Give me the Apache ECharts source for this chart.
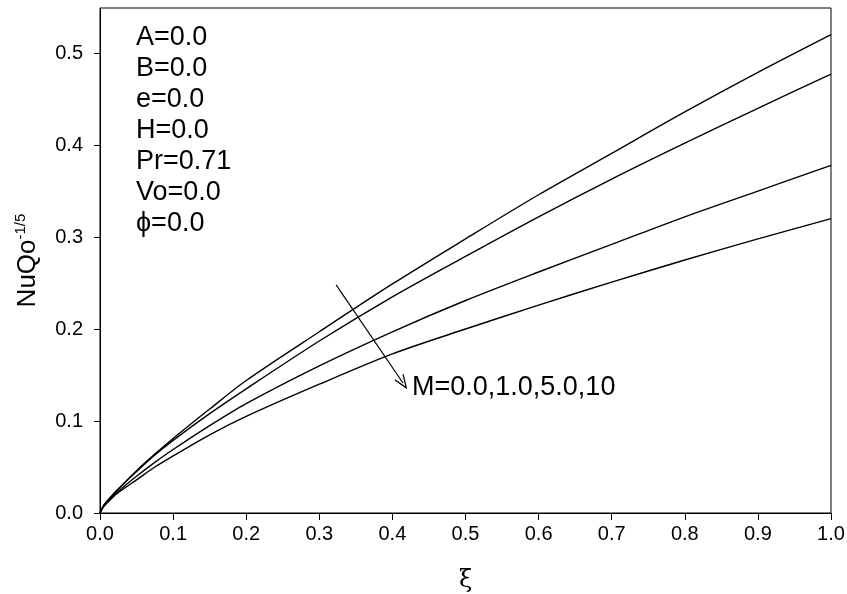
<!DOCTYPE html>
<html>
<head>
    <meta charset="UTF-8">
    <title>NuQo</title>
    <script src="https://cdn.jsdelivr.net/npm/echarts@6/dist/echarts.min.js"></script>
    <style>
        *{margin:0;padding:0}
        html,body{width:100%;height:100%;background:#fff}
        #main{width:847px;height:594px}
    </style>
</head>
<body>
    <div id="main"></div>
    <script type="text/javascript">
        // xi values shared by all curves
        var xiList = [0, 0.005, 0.01, 0.02, 0.03, 0.05, 0.075, 0.1, 0.15, 0.2, 0.3, 0.4, 0.5, 0.6, 0.7, 0.8, 0.9, 1.0];
        // NuQo^-1/5 for M = 0.0, 1.0, 5.0, 10
        var m0  = [0, 0.008, 0.013, 0.022, 0.030, 0.046, 0.064, 0.081, 0.113, 0.144, 0.197, 0.249, 0.298, 0.346, 0.391, 0.436, 0.479, 0.520];
        var m1  = [0, 0.008, 0.013, 0.022, 0.030, 0.045, 0.063, 0.079, 0.108, 0.135, 0.187, 0.235, 0.279, 0.322, 0.363, 0.402, 0.440, 0.477];
        var m5  = [0, 0.008, 0.012, 0.020, 0.027, 0.040, 0.055, 0.069, 0.095, 0.119, 0.160, 0.197, 0.231, 0.262, 0.292, 0.322, 0.350, 0.378];
        var m10 = [0, 0.007, 0.011, 0.019, 0.025, 0.036, 0.050, 0.062, 0.085, 0.105, 0.140, 0.173, 0.200, 0.226, 0.251, 0.275, 0.298, 0.320];
        var xTicks = [0, 0.1, 0.2, 0.3, 0.4, 0.5, 0.6, 0.7, 0.8, 0.9, 1.0];
        var yTicks = [0, 0.1, 0.2, 0.3, 0.4, 0.5];
        var paramLines = ['A=0.0', 'B=0.0', 'e=0.0', 'H=0.0', 'Pr=0.71', 'Vo=0.0', 'ϕ=0.0'];
        var arrowFrom = [0.323, 0.248];
        var arrowTo = [0.4145, 0.1413];

        function pairs(ys) {
            return xiList.map(function (x, i) { return [x, ys[i]]; });
        }
        function curve(name, ys) {
            return {
                name: name,
                type: 'line',
                data: pairs(ys),
                symbol: 'none',
                smooth: 0.3,
                lineStyle: {color: '#000', width: 1.4},
                animation: false
            };
        }

        var font = 'Liberation Sans, Arial, sans-serif';
        var series = [curve('M=0.0', m0), curve('M=1.0', m1), curve('M=5.0', m5), curve('M=10', m10)];
        // arrow annotation across the curves
        series[0].markLine = {
            silent: true,
            symbol: ['none', 'path://M6,0 L12,12 L10.8,12.6 L6,3 L1.2,12.6 L0,12 Z'],
            symbolSize: [11, 15],
            lineStyle: {color: '#000', width: 1.2, type: 'solid'},
            label: {show: false},
            data: [[{coord: arrowFrom}, {coord: arrowTo}]],
            animation: false
        };

        var graphics = paramLines.map(function (t, i) {
            return {
                type: 'text',
                left: 136,
                top: 24 + i * 31,
                style: {text: t, font: '27px ' + font, fill: '#000'}
            };
        });
        graphics.push({
            type: 'text',
            left: 412,
            top: 374,
            style: {text: 'M=0.0,1.0,5.0,10', font: '27px ' + font, fill: '#000'}
        });

        var myChart = echarts.init(document.getElementById('main'));
        var option = {
            backgroundColor: '#fff',
            animation: false,
            grid: {
                left: 100, right: 16, top: 8, bottom: 81,
                containLabel: false,
                outerBoundsMode: 'none',
                show: true, borderColor: '#000', borderWidth: 1
            },
            xAxis: {
                type: 'value',
                min: 0, max: 1, interval: 0.1,
                name: 'ξ',
                nameLocation: 'middle',
                nameGap: 56,
                nameTextStyle: {fontFamily: 'DejaVu Serif, serif', fontSize: 24, color: '#000'},
                splitLine: {show: false},
                axisLine: {show: true, onZero: false, lineStyle: {color: '#000', width: 1}},
                axisTick: {show: true, inside: false, length: 7, lineStyle: {color: '#000'}, customValues: xTicks},
                axisLabel: {
                    color: '#000', fontSize: 20, fontFamily: font, margin: 11,
                    customValues: xTicks,
                    formatter: function (v) { return v.toFixed(1); }
                }
            },
            yAxis: {
                type: 'value',
                min: 0, max: 0.549,
                name: '{a|NuQo}{b|-1/5}',
                nameLocation: 'middle',
                nameGap: 58,
                nameRotate: 90,
                nameTextStyle: {
                    rich: {
                        a: {fontFamily: font, fontSize: 26, color: '#000'},
                        b: {fontFamily: font, fontSize: 15, color: '#000', padding: [0, 0, 14, 0]}
                    }
                },
                splitLine: {show: false},
                axisLine: {show: true, onZero: false, lineStyle: {color: '#000', width: 1}},
                axisTick: {show: true, inside: false, length: 6, lineStyle: {color: '#000'}, customValues: yTicks},
                axisLabel: {
                    color: '#000', fontSize: 20, fontFamily: font, margin: 17,
                    customValues: yTicks,
                    formatter: function (v) { return v.toFixed(1); }
                }
            },
            graphic: graphics,
            series: series
        };
        myChart.setOption(option);
    </script>
</body>
</html>
